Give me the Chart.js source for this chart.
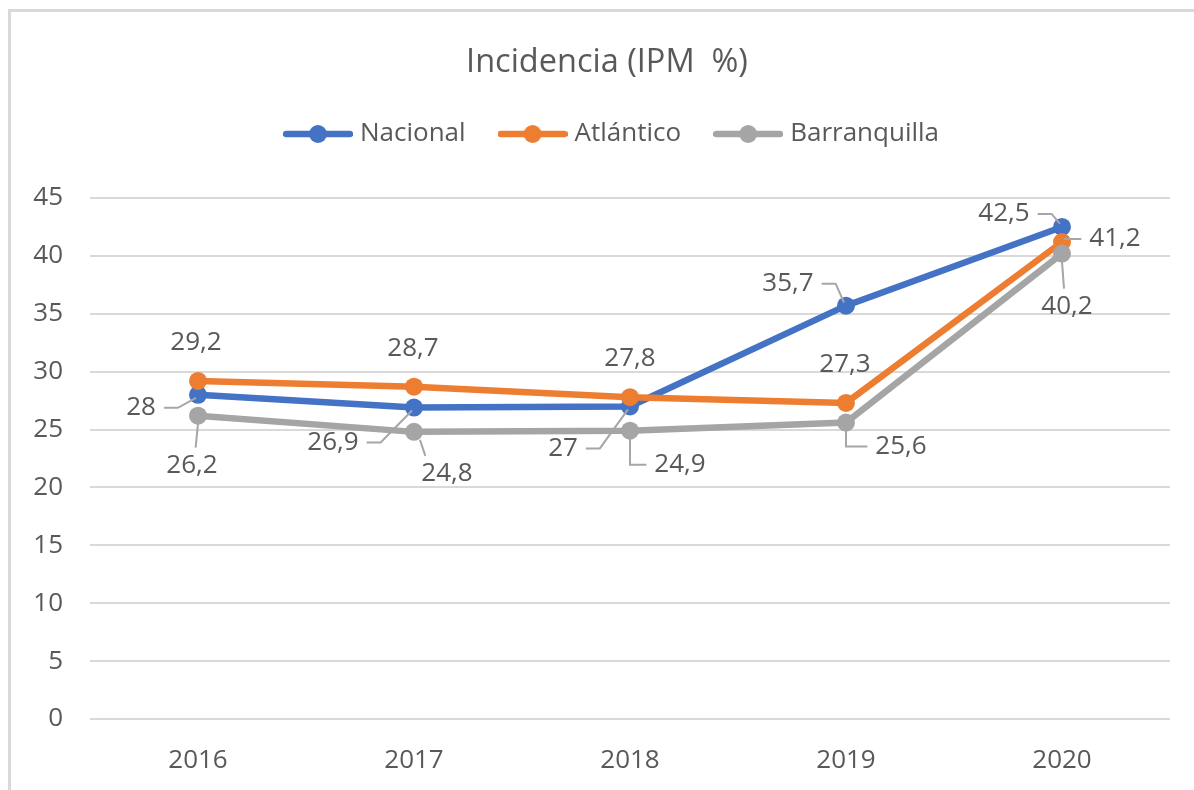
<!DOCTYPE html>
<html>
<head>
<meta charset="utf-8">
<script src="https://cdn.jsdelivr.net/npm/chart.js@4/dist/chart.umd.min.js"></script>
<style>
  html, body { margin: 0; padding: 0; background: #fff; overflow: hidden; }
  #frame { position: absolute; left: 8px; top: 9px; width: 1300px; height: 900px; border: 3px solid #d9d9d9; }
  #chart { position: absolute; left: 0; top: 0; }
</style>
</head>
<body>
<div id="frame"></div>
<canvas id="chart" width="1194" height="790"></canvas>
<script>
const years = ['2016', '2017', '2018', '2019', '2020'];
const nacional = [28, 26.9, 27, 35.7, 42.5];
const atlantico = [29.2, 28.7, 27.8, 27.3, 41.2];
const barranquilla = [26.2, 24.8, 24.9, 25.6, 40.2];

// where each value label sits relative to its point: [dx, dy, leader]
const labelPos = [
    [[-57, 13, 'h'], [-81, 35, 'h'], [-67, 42, 'h'], [-58, -22, 'h'], [-58, -13, 'h']],
    [[-2, -38, null], [-1, -38, null], [0, -39, null], [-1, -38, null], [53, -3, 'h']],
    [[-6, 50, 's'], [33, 42, 's'], [50, 34, 'v'], [55, 24, 'v'], [5, 53, 's']]
];

const textColor = '#595959';
const fontFamily = '"Open Sans", sans-serif';
Chart.defaults.font.family = fontFamily;
Chart.defaults.color = textColor;

// legend marker: line with a dot, like the office chart
function legendMarker(color) {
    const c = document.createElement('canvas');
    c.width = 70;
    c.height = 20;
    const g = c.getContext('2d');
    g.strokeStyle = color;
    g.lineWidth = 6.5;
    g.lineCap = 'round';
    g.beginPath();
    g.moveTo(3, 10);
    g.lineTo(67, 10);
    g.stroke();
    g.fillStyle = color;
    g.beginPath();
    g.arc(35, 10, 9, 0, Math.PI * 2);
    g.fill();
    return c;
}

const valueLabels = {
    id: 'valueLabels',
    afterDatasetsDraw(chart) {
        const ctx = chart.ctx;
        ctx.save();
        ctx.font = '26px ' + fontFamily;
        ctx.textAlign = 'center';
        ctx.textBaseline = 'middle';
        chart.data.datasets.forEach((ds, di) => {
            const meta = chart.getDatasetMeta(di);
            meta.data.forEach((pt, i) => {
                const [dx, dy, leader] = labelPos[di][i];
                const txt = String(ds.data[i]).replace('.', ',');
                const lx = pt.x + dx, ly = pt.y + dy;
                const w = ctx.measureText(txt).width;
                ctx.strokeStyle = '#a6a6a6';
                ctx.lineWidth = 2;
                ctx.beginPath();
                if (leader === 'h') {
                    const side = dx < 0 ? 1 : -1;
                    const x0 = lx + side * (w / 2 + 8);
                    const x1 = x0 + side * 14;
                    ctx.moveTo(x0, ly);
                    ctx.lineTo(x1, ly);
                    ctx.lineTo(pt.x - side * 2, pt.y + (dy > 0 ? 3 : -3));
                } else if (leader === 'v') {
                    ctx.moveTo(pt.x, pt.y + 8);
                    ctx.lineTo(pt.x, ly);
                    ctx.lineTo(lx - w / 2 - 8, ly);
                } else if (leader === 's') {
                    const ex = dx > 20 ? lx - w / 2 + 4 : pt.x + dx * 0.4;
                    const ey = ly - 18;
                    ctx.moveTo(pt.x + (dx > 20 ? 6 : 0), pt.y + 8);
                    ctx.lineTo(ex, ey);
                }
                if (leader) ctx.stroke();
                ctx.fillStyle = textColor;
                ctx.fillText(txt, lx, ly);
            });
        });
        ctx.restore();
    }
};

// extra room under the legend, and title/legend centred a bit right of the canvas
const headerShift = {
    id: 'headerShift',
    beforeInit(chart) {
        const fit = chart.legend.fit;
        chart.legend.fit = function () {
            fit.bind(chart.legend)();
            this.height += chart.options.plugins.legend.extraHeight || 0;
        };
    },
    afterLayout(chart) {
        chart.titleBlock.left += 22;
        chart.titleBlock.right += 22;
        chart.legend.left += 29;
        chart.legend.right += 29;
    }
};

function series(label, data, color, order) {
    return {
        label: label,
        data: data,
        borderColor: color,
        backgroundColor: color,
        borderWidth: 6.5,
        pointRadius: 9,
        pointHoverRadius: 9,
        pointBorderWidth: 0,
        pointBackgroundColor: color,
        order: order,
        tension: 0
    };
}

const chart = new Chart(document.getElementById('chart'), {
    type: 'line',
    data: {
        labels: years,
        datasets: [
            series('Nacional', nacional, '#4472c4', 3),
            series('Atlántico', atlantico, '#ed7d31', 2),
            series('Barranquilla', barranquilla, '#a5a5a5', 1)
        ]
    },
    options: {
        responsive: false,
        animation: false,
        layout: { padding: { left: 0, right: 24, top: 0, bottom: 0 } },
        plugins: {
            title: {
                display: true,
                text: 'Incidencia (IPM  %)',
                color: textColor,
                font: { size: 32.5, weight: 'normal' },
                padding: { top: 43, bottom: 20 }
            },
            legend: {
                display: true,
                extraHeight: 30,
                labels: {
                    usePointStyle: true,
                    pointStyleWidth: 58,
                    color: textColor,
                    font: { size: 26 },
                    padding: 38,
                    sort: (a, b) => a.datasetIndex - b.datasetIndex,
                    generateLabels(chart) {
                        return chart.data.datasets.map((ds, i) => ({
                            text: ds.label,
                            pointStyle: legendMarker(ds.borderColor),
                            fillStyle: ds.borderColor,
                            strokeStyle: ds.borderColor,
                            lineWidth: 0,
                            fontColor: textColor,
                            hidden: false,
                            datasetIndex: i
                        }));
                    }
                }
            },
            tooltip: { enabled: false }
        },
        scales: {
            x: {
                offset: true,
                grid: { display: false },
                border: { display: false },
                ticks: { color: textColor, font: { size: 26 }, padding: 18 },
                afterFit(scale) { scale.height = 71; }
            },
            y: {
                min: 0,
                max: 45,
                ticks: { stepSize: 5, color: textColor, font: { size: 26 }, padding: 27 },
                grid: { color: '#d9d9d9', lineWidth: 2, drawTicks: false },
                border: { display: false },
                afterFit(scale) { scale.width = 90; }
            }
        }
    },
    plugins: [valueLabels, headerShift]
});

// line the title, legend and plot area up with the reference
const box = chart.legend.legendHitBoxes[0];
chart.options.plugins.title.padding.bottom += Math.round(134 - (box.top + box.height / 2));
chart.update('none');
chart.options.plugins.legend.extraHeight += Math.round(198 - chart.chartArea.top);
chart.update('none');
</script>
</body>
</html>
